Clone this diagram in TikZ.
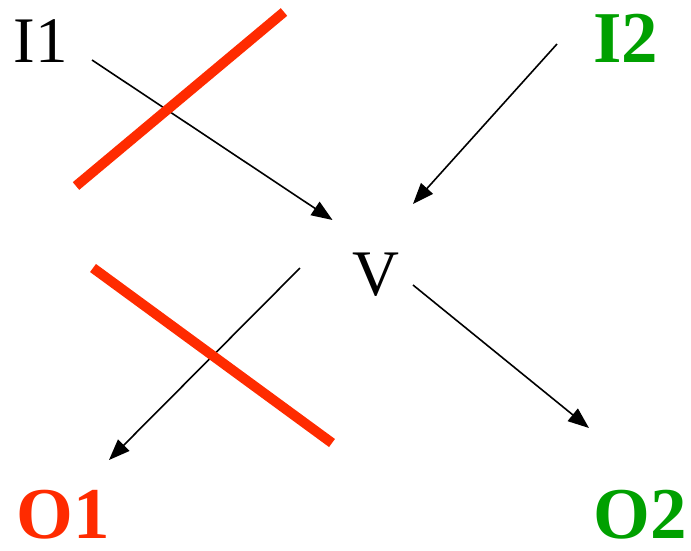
\documentclass[tikz,border=0pt]{standalone}
\usepackage{fontspec}
\setmainfont{Liberation Serif}
\usetikzlibrary{arrows.meta,calc}
\definecolor{crossred}{HTML}{FF2B00}
\definecolor{outgreen}{HTML}{00A000}

\begin{document}
\begin{tikzpicture}[x=1pt, y=-1pt,
  lbl/.style={inner sep=0pt, font=\fontsize{65}{70}\selectfont},
  blbl/.style={inner sep=0pt, font=\fontsize{73}{78}\selectfont\bfseries},
  arr/.style={line width=1.6pt, -{Triangle[length=21pt, width=16pt]}},
  cut/.style={draw=crossred, line width=10pt}]
\useasboundingbox (0,0) rectangle (691,550);
\node[lbl] (I1) at (40.5,41.5) {I1};
\node[blbl, text=outgreen] (I2) at (625.5,38) {I2};
\node[lbl] (V) at (375.5,275) {V};
\node[blbl, text=crossred] (O1) at (63.5,514.5) {O1};
\node[blbl, text=outgreen] (O2) at (640,514.5) {O2};
\draw[arr] ($(I1)+(51.5,18.5)$) -- ($(V)+(-43,-55)$);
\draw[arr] ($(I2)+(-68.5,6)$) -- ($(V)+(37.5,-71)$);
\draw[arr] ($(V)+(-75.5,-7)$) -- ($(O1)+(45.5,-54.5)$);
\draw[arr] ($(V)+(37.5,10)$) -- ($(O2)+(-51,-86.5)$);
% cut marks
\draw[cut] (284,12) -- (76,186);
\draw[cut] (93,268) -- (332,443);
\end{tikzpicture}
\end{document}
